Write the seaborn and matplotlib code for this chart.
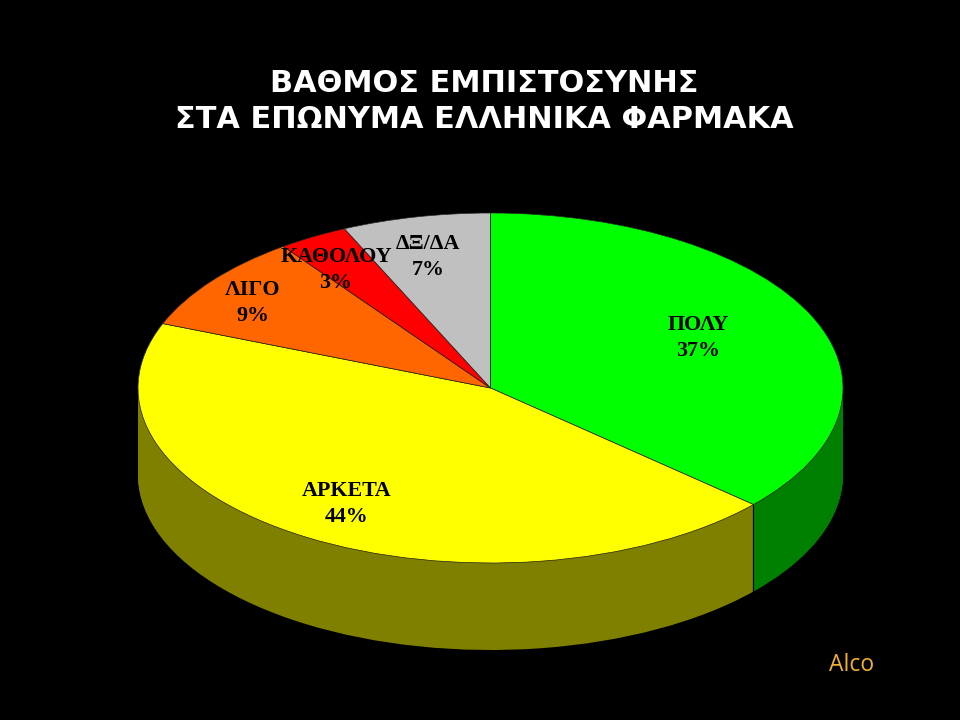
import matplotlib
matplotlib.use('Agg')
import matplotlib.pyplot as plt
import numpy as np
import seaborn as sns

categories = ['ΠΟΛΥ', 'ΑΡΚΕΤΑ', 'ΛΙΓΟ', 'ΚΑΘΟΛΟΥ', 'ΔΞ/ΔΑ']
shares = [36.6, 44.4, 9.0, 3.2, 6.8]
top_colors = ['#00FF00', '#FFFF00', '#FF6600', '#FF0000', '#C0C0C0']
side_colors = ['#008000', '#808000', '#803300', '#800000', '#606060']
title_lines = ['ΒΑΘΜΟΣ ΕΜΠΙΣΤΟΣΥΝΗΣ', 'ΣΤΑ ΕΠΩΝΥΜΑ ΕΛΛΗΝΙΚΑ ΦΑΡΜΑΚΑ']
signature = 'Alco'

sns.set_theme(style='dark', rc={'figure.facecolor': 'black', 'axes.facecolor': 'black'})

W, H = 960, 720
CX, CY, RX, RY, DEPTH = 490.5, 388, 352.5, 175, 87

fig = plt.figure(figsize=(W / 100, H / 100), dpi=100)
ax = fig.add_axes([0, 0, 1, 1])


def px(x, y):
    return x / W, 1 - y / H


# side of the disc: the pie stacked downwards, one pixel per layer
depth = DEPTH / RY
for off in np.linspace(depth, 0, DEPTH + 1):
    ax.pie(shares, colors=sns.color_palette(side_colors), startangle=90, counterclock=False,
           center=(0, -off), wedgeprops={'linewidth': 0})

# border between green and olive on the side
angle = np.deg2rad(90 - 360 * shares[0] / sum(shares))
ax.plot([np.cos(angle)] * 2, [np.sin(angle), np.sin(angle) - depth], color='black', lw=0.8)

ax.pie(shares, colors=sns.color_palette(top_colors), startangle=90, counterclock=False,
       wedgeprops={'linewidth': 0.5, 'edgecolor': '#202020'})

ax.set_aspect('auto')
ax.set_xlim(-CX / RX, (W - CX) / RX)
ax.set_ylim(-(H - CY) / RY, CY / RY)
ax.axis('off')

label_pos = [(698, 338), (347, 504), (253, 303), (336, 270), (428, 257)]
for name, share, (x, y) in zip(categories, shares, label_pos):
    fig.text(*px(x, y), f'{name}\n{share:.0f}%', ha='center', va='center', color='black',
             family='Liberation Serif', fontweight='bold', fontsize=15.8, linespacing=1.4)

for line, y in zip(title_lines, [84, 119]):
    fig.text(*px(484, y), line, ha='center', va='center', color='white',
             family='DejaVu Sans', fontweight='bold', fontsize=21.9)

fig.text(*px(852, 665), signature, ha='center', va='center', color='#F0B030',
         family='Open Sans', fontsize=16.5)

fig.savefig('out.png', dpi=100, facecolor='black')
